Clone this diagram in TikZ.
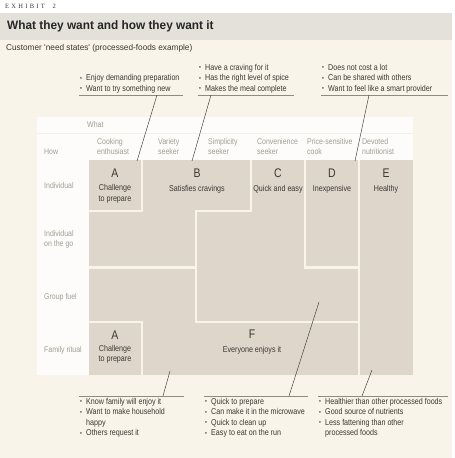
\documentclass[tikz,border=0pt]{standalone}
\usepackage{fontspec}
\usepackage{graphicx}
\setmainfont{Liberation Sans}[FakeStretch=0.84]
\newfontfamily\headfont{Liberation Sans}[FakeStretch=0.97]
\newfontfamily\exhfont{Liberation Serif}[LetterSpace=35]
\usetikzlibrary{positioning,calc}
\definecolor{cream}{HTML}{F8F4EA}
\definecolor{band}{HTML}{E3E1D9}
\definecolor{panel}{HTML}{FDFCFA}
\definecolor{blockgray}{HTML}{DED6CA}
\definecolor{hdrgray}{HTML}{A39D94}
\definecolor{ink}{HTML}{3A3733}
\definecolor{rulegray}{HTML}{8F8A82}
\newcommand{\bul}{\makebox[6pt][l]{\raisebox{0.5pt}{\scalebox{0.75}{\textbullet}}}}
\newcommand{\bcont}{\hspace*{6pt}}

\begin{document}
\begin{tikzpicture}[x=1pt,y=-1pt,
  gap/.style={draw=cream,line width=2.4pt},
  hdr/.style={text=hdrgray,align=left,inner sep=0pt,font=\fontsize{8.3}{10}\selectfont},
  rowlab/.style={hdr,anchor=west},
  letter/.style={text=ink,inner sep=0pt,font=\fontsize{12.5}{13}\selectfont},
  blocktxt/.style={text=ink,align=center,inner sep=0pt,font=\fontsize{8.5}{10.5}\selectfont},
  note/.style={text=ink,align=left,inner xsep=1pt,inner ysep=2pt,font=\fontsize{8.5}{10.5}\selectfont},
  rule/.style={draw=rulegray,line width=0.6pt},
  ptr/.style={draw=ink,line width=0.45pt}
]
\useasboundingbox (0,0) rectangle (455,458);
% page, title band and table panel
\fill[white] (0,0) rectangle (455,458);
\fill[band] (0,13) rectangle (452,40);
\fill[cream] (0,40) rectangle (452,458);
\fill[panel] (37,117) rectangle (413,375);
\draw[cream!80!band,line width=0.6pt] (37,133) -- (413,133);
\node[anchor=west,inner sep=0pt,text=ink,font=\exhfont\fontsize{6.5}{7}\selectfont] (exh) at (5,6) {EXHIBIT\ \ 2};
\node[anchor=west,inner sep=0pt,text=black!85,font=\headfont\bfseries\fontsize{12.2}{13}\selectfont] (title) at (7,26.5)
  {What they want and how they want it};
\node[anchor=west,inner sep=0pt,text=ink,font=\headfont\fontsize{8.5}{10}\selectfont] (sub) at (6,48)
  {Customer \textquotesingle need states\textquotesingle\ (processed-foods example)};

% need-state blocks
\fill[blockgray] (89,160) rectangle (413,375);
\draw[gap] (142,160) -- (142,211) -- (89,211);
\draw[gap] (89,267.5) -- (196,267.5);
\draw[gap] (251,160) -- (251,211) -- (196,211) -- (196,322) -- (359,322);
\draw[gap] (305,160) -- (305,267.5) -- (359,267.5);
\draw[gap] (359,160) -- (359,375);
\draw[gap] (89,322) -- (142,322) -- (142,375);

% axis headers
\node[hdr,anchor=west] (what) at (87,125) {What};
\node[hdr,anchor=west] (how) at (44,152) {How};
\node[hdr,anchor=west] (h1) at (97,147) {Cooking\\enthusiast};
\node[hdr,anchor=west] (h2) at (158,147) {Variety\\seeker};
\node[hdr,anchor=west] (h3) at (208,147) {Simplicity\\seeker};
\node[hdr,anchor=west] (h4) at (257,147) {Convenience\\seeker};
\node[hdr,anchor=west] (h5) at (307,147) {Price-sensitive\\cook};
\node[hdr,anchor=west] (h6) at (362,147) {Devoted\\nutritionist};
\node[rowlab] (r1) at (44,186) {Individual};
\node[rowlab] (r2) at (44,239) {Individual\\on the go};
\node[rowlab] (r3) at (44,297) {Group fuel};
\node[rowlab] (r4) at (44,350) {Family ritual};

% block labels
\node[letter] (aLet) at (115,173) {A};
\node[blocktxt] (aTxt) at (115,194) {Challenge\\to prepare};
\node[letter] (bLet) at (197,173) {B};
\node[blocktxt] (bTxt) at (197,189) {Satisfies cravings};
\node[letter] (cLet) at (278,173) {C};
\node[blocktxt] (cTxt) at (278,189) {Quick and easy};
\node[letter] (dLet) at (332,173) {D};
\node[blocktxt] (dTxt) at (332,189) {Inexpensive};
\node[letter] (eLet) at (386,173) {E};
\node[blocktxt] (eTxt) at (386,189) {Healthy};
\node[letter] (a2Let) at (115,335) {A};
\node[blocktxt] (a2Txt) at (115,354.5) {Challenge\\to prepare};
\node[letter] (fLet) at (252,334) {F};
\node[blocktxt] (fTxt) at (252,350) {Everyone enjoys it};

% callouts above
\node[note,anchor=south west] (cA) at (79,95)
  {\bul Enjoy demanding preparation\\\bul Want to try something new};
\node[note,anchor=south west] (cB) at (198,95)
  {\bul Have a craving for it\\\bul Has the right level of spice\\\bul Makes the meal complete};
\node[note,anchor=south west] (cD) at (321,95)
  {\bul Does not cost a lot\\\bul Can be shared with others\\\bul Want to feel like a smart provider};
\draw[rule] (cA.south west) -- ++(104,0);
\draw[rule] (cB.south west) -- ++(96,0);
\draw[rule] (cD.south west) -- ++(127,0);
\coordinate (tipA) at (137,161);
\coordinate (tipB) at (192,161);
\coordinate (tipD) at (355,161);
\draw[ptr] ([xshift=78pt]cA.south west) -- (tipA);
\draw[ptr] ([xshift=13pt]cB.south west) -- (tipB);
\draw[ptr] ([xshift=48pt]cD.south west) -- (tipD);

% callouts below
\node[note,anchor=north west] (cF) at (79,396)
  {\bul Know family will enjoy it\\\bul Want to make household\\\bcont happy\\\bul Others request it};
\node[note,anchor=north west] (cC) at (204,396)
  {\bul Quick to prepare\\\bul Can make it in the microwave\\\bul Quick to clean up\\\bul Easy to eat on the run};
\node[note,anchor=north west] (cE) at (318,396)
  {\bul Healthier than other processed foods\\\bul Good source of nutrients\\\bul Less fattening than other\\\bcont processed foods};
\draw[rule] (cF.north west) -- ++(105,0);
\draw[rule] (cC.north west) -- ++(104,0);
\draw[rule] (cE.north west) -- ++(130,0);
\coordinate (tipF) at (170,371);
\coordinate (tipC) at (319,302);
\coordinate (tipE) at (372,370);
\draw[ptr] ([xshift=84pt]cF.north west) -- (tipF);
\draw[ptr] ([xshift=85pt]cC.north west) -- (tipC);
\draw[ptr] ([xshift=44pt]cE.north west) -- (tipE);
\end{tikzpicture}
\end{document}
